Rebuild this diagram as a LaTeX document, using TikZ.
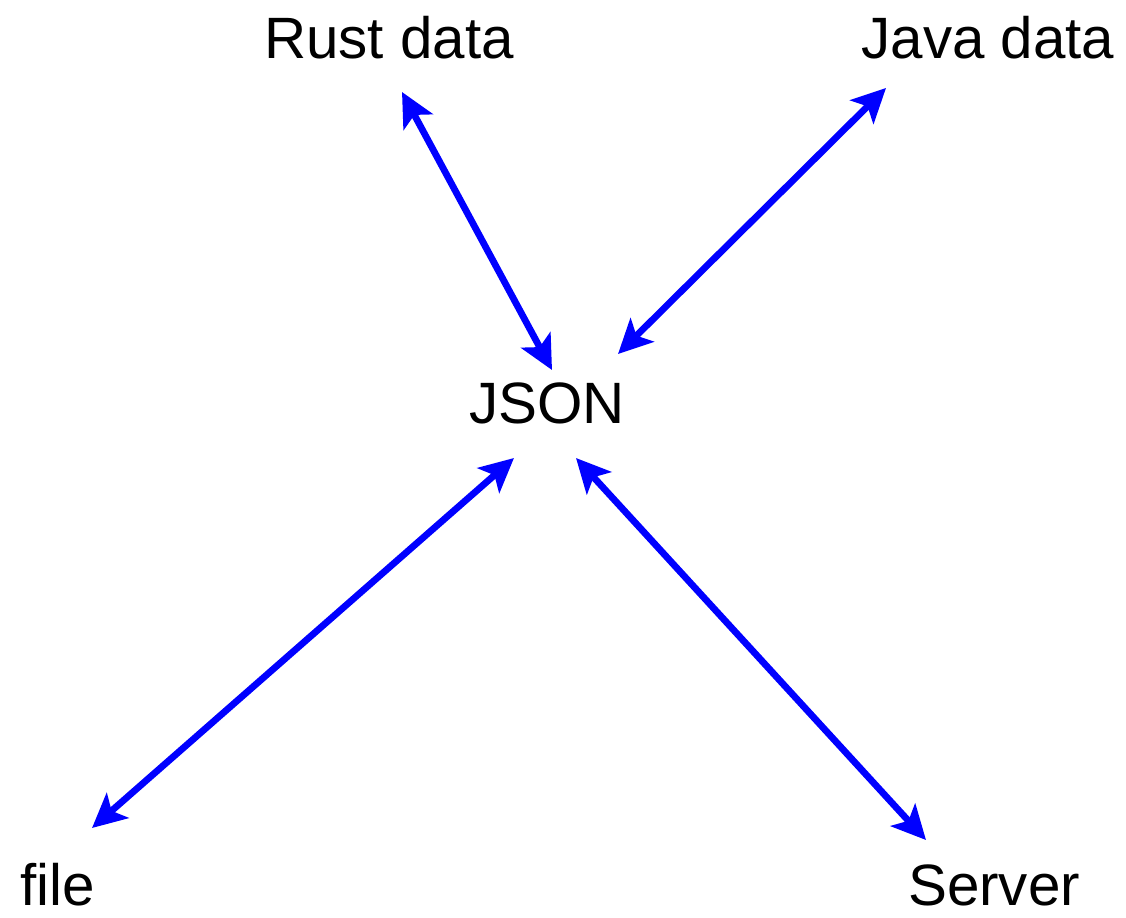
\documentclass[tikz,border=0pt]{standalone}
\usepackage{fontspec}
\setmainfont{Liberation Sans}
\usetikzlibrary{arrows.meta}
\begin{document}
\begin{tikzpicture}[x=0.02cm,y=-0.02cm,
  lbl/.style={inner sep=0pt, font=\fontsize{33.2pt}{37pt}\selectfont},
  link/.style={draw=blue, line width=0.135cm,
    {Stealth[length=0.68cm,width=0.66cm,inset=0.16cm]}-{Stealth[length=0.68cm,width=0.66cm,inset=0.16cm]}}]
\useasboundingbox (0,0) rectangle (1126,917);
\node[lbl] (rust) at (389,38) {Rust data};
\node[lbl] (java) at (988,38) {Java data};
\node[lbl] (json) at (547,403) {JSON};
\node[lbl] (file) at (58,885) {file};
\node[lbl] (server) at (994,885) {Server};
\draw[link] ([shift={(13,54)}]rust.center) -- ([shift={(5,-33)}]json.center);
\draw[link] ([shift={(-102,50)}]java.center) -- ([shift={(71,-49)}]json.center);
\draw[link] ([shift={(34,-57)}]file.center) -- ([shift={(-33,55)}]json.center);
\draw[link] ([shift={(-68,-45)}]server.center) -- ([shift={(29,55)}]json.center);
\end{tikzpicture}
\end{document}
